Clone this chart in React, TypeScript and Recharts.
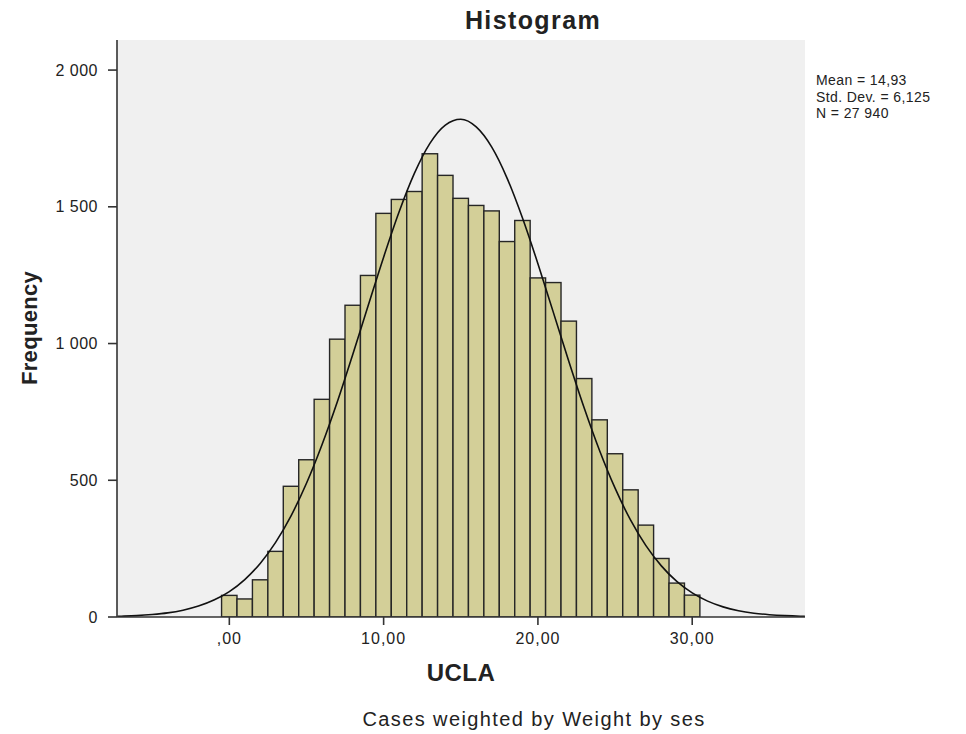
import React from 'react';
import { ComposedChart, Bar, Line, XAxis, YAxis, CartesianGrid } from 'recharts';

// histogram bins (UCLA score) and counts
const binCenters = [0, 1, 2, 3, 4, 5, 6, 7, 8, 9, 10, 11, 12, 13, 14, 15, 16, 17, 18, 19, 20, 21, 22, 23, 24, 25, 26, 27, 28, 29, 30];
const frequencies = [79, 66, 136, 240, 478, 575, 796, 1016, 1140, 1249, 1476, 1527, 1556, 1694, 1615, 1531, 1505, 1485, 1373, 1450, 1240, 1223, 1082, 872, 721, 597, 465, 336, 214, 124, 80];

// normal curve
const curveX = [-7.25, -7, -6, -5, -4, -3, -2, -1, 0, 1, 2, 3, 4, 5, 6, 7, 8, 9, 10, 11, 12, 13, 14, 15, 16, 17, 18, 19, 20, 21, 22, 23, 24, 25, 26, 27, 28, 29, 30, 31, 32, 33, 34, 35, 36, 37, 37.3];
const curveY = [2.6, 3, 5, 9, 15, 25, 40, 62, 93, 137, 196, 273, 370, 489, 629, 787, 960, 1139, 1316, 1481, 1623, 1732, 1799, 1820, 1792, 1719, 1605, 1459, 1292, 1114, 935, 764, 608, 471, 355, 261, 187, 130, 88, 58, 37, 23, 14, 8.5, 4.9, 2.7, 2.3];

const xTicks = [0, 10, 20, 30];
const xTickLabels = [',00', '10,00', '20,00', '30,00'];
const yTicks = [0, 500, 1000, 1500, 2000];
const yTickLabels = ['0', '500', '1 000', '1 500', '2 000'];

const statLines = ['Mean = 14,93', 'Std. Dev. = 6,125', 'N = 27 940'];

const X_DOMAIN: [number, number] = [-7.28, 37.31];
const Y_DOMAIN: [number, number] = [0, 2110];
const BIN_WIDTH = 1;

const PLOT_LEFT = 117;
const PLOT_RIGHT = 805;
const PX_PER_UNIT = (PLOT_RIGHT - PLOT_LEFT) / (X_DOMAIN[1] - X_DOMAIN[0]);

type Row = { x: number; freq?: number; normal?: number };

const buildData = (): Row[] => {
  const rows = new Map<number, Row>();
  curveX.forEach((x, i) => rows.set(x, { x, normal: curveY[i] }));
  binCenters.forEach((x, i) => {
    const r = rows.get(x) || { x };
    r.freq = frequencies[i];
    rows.set(x, r);
  });
  return Array.from(rows.values()).sort((a, b) => a.x - b.x);
};

const data = buildData();

// bars sit on the numeric axis, so widen each one to the full bin around its centre
const BinBar = (props: any) => {
  const { x, y, width, height, fill, stroke } = props;
  if (!height || height <= 0) return null;
  const w = BIN_WIDTH * PX_PER_UNIT;
  const cx = x + width / 2;
  return <rect x={cx - w / 2} y={y} width={w} height={height} fill={fill} stroke={stroke} strokeWidth={1.4} />;
};

const font = '"Liberation Sans", Arial, sans-serif';
const axisColor = '#333';

const App: React.FC = () => {
  return (
    <div style={{ position: 'absolute', left: 0, top: 0, width: 966, height: 734, background: '#fff', fontFamily: font, color: '#222' }}>
      <ComposedChart
        width={966}
        height={734}
        data={data}
        margin={{ top: 40, right: 161, bottom: 77, left: 37 }}
        style={{ fontFamily: font }}
      >
        <CartesianGrid fill="#f0f0f0" horizontal={false} vertical={false} />
        <Bar dataKey="freq" fill="#d3cf98" stroke="#262626" shape={<BinBar />} isAnimationActive={false} />
        <Line dataKey="normal" type="monotone" stroke="#111" strokeWidth={1.6} dot={false} activeDot={false} isAnimationActive={false} />
        <XAxis
          dataKey="x"
          type="number"
          domain={X_DOMAIN}
          ticks={xTicks}
          tickFormatter={(v: number) => xTickLabels[xTicks.indexOf(v)]}
          allowDataOverflow
          height={40}
          tickSize={8}
          tickMargin={8}
          stroke={axisColor}
          strokeWidth={1.6}
          tick={{ fill: '#222', fontSize: 16, letterSpacing: 1 }}
        />
        <XAxis xAxisId="top" orientation="top" type="number" domain={X_DOMAIN} allowDataOverflow height={0} tick={false} tickLine={false} stroke="#444" strokeWidth={1.4} />
        <YAxis
          type="number"
          domain={Y_DOMAIN}
          ticks={yTicks}
          tickFormatter={(v: number) => yTickLabels[yTicks.indexOf(v)]}
          allowDataOverflow
          width={80}
          tickSize={9}
          tickMargin={10}
          stroke={axisColor}
          strokeWidth={1.6}
          tick={{ fill: '#222', fontSize: 16, letterSpacing: 0.5 }}
        />
        <YAxis yAxisId="right" orientation="right" type="number" domain={Y_DOMAIN} width={0} tick={false} tickLine={false} stroke="#444" strokeWidth={1.4} />
      </ComposedChart>

      <div style={{ position: 'absolute', left: 383, top: 6, width: 300, textAlign: 'center', fontSize: 25, fontWeight: 'bold', letterSpacing: 1.4 }}>Histogram</div>

      <div style={{ position: 'absolute', left: 816, top: 72, fontSize: 14, lineHeight: '16.5px', letterSpacing: 0.4 }}>
        {statLines.map((s) => (
          <div key={s}>{s}</div>
        ))}
      </div>

      <div
        style={{
          position: 'absolute',
          left: 30,
          top: 328,
          transform: 'translate(-50%, -50%) rotate(-90deg)',
          fontSize: 22,
          fontWeight: 'bold',
          letterSpacing: 0.3,
          whiteSpace: 'nowrap',
        }}
      >
        Frequency
      </div>

      <div style={{ position: 'absolute', left: 311, top: 659, width: 300, textAlign: 'center', fontSize: 24, fontWeight: 'bold', letterSpacing: 0.5 }}>UCLA</div>

      <div style={{ position: 'absolute', left: 284, top: 708, width: 500, textAlign: 'center', fontSize: 20, letterSpacing: 1.4 }}>Cases weighted by Weight by ses</div>
    </div>
  );
};

export default App;
